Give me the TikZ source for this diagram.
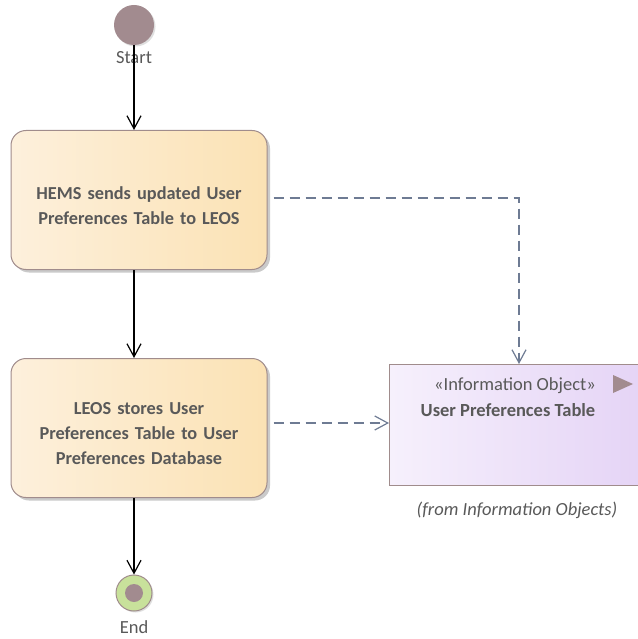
\documentclass[tikz,border=0pt]{standalone}
\usepackage{fontspec}
\setmainfont{Carlito}
\usetikzlibrary{arrows.meta,shadows}
\definecolor{txt}{HTML}{595959}
\definecolor{edge}{HTML}{A08C8C}
\definecolor{mauve}{HTML}{A28B8F}
\definecolor{tracecol}{HTML}{6E7B93}
\definecolor{actleft}{RGB}{253,240,220}
\definecolor{actright}{RGB}{251,226,180}
\definecolor{infoleft}{RGB}{246,240,252}
\definecolor{inforight}{RGB}{229,212,246}
\definecolor{finalgreen}{RGB}{200,225,155}
\begin{document}
\begin{tikzpicture}[x=1pt,y=-1pt,
  font=\fontsize{18.5pt}{22pt}\selectfont,
  actbox/.style={draw=edge,line width=1pt,rounded corners=15pt,minimum width=256pt,minimum height=139pt,
    shading=axis,shading angle=90,left color=actleft,right color=actright,
    drop shadow={shadow xshift=3pt,shadow yshift=-3pt,fill=black!35,opacity=0.6}},
  acttext/.style={text=txt,font=\fontsize{18.3pt}{25pt}\selectfont\bfseries,align=center,text width=240pt,inner sep=0pt},
  flow/.style={-{Straight Barb[length=13pt,width=14pt,line width=1.2pt]},line width=1.3pt,black},
  trace/.style={-{Straight Barb[length=13pt,width=14pt,line width=1.2pt]},line width=1.3pt,draw=tracecol,dash pattern=on 10pt off 6pt},
  lbl/.style={text=txt,inner sep=0pt}]
\useasboundingbox (0,0) rectangle (637,639);
% start node
\node[circle,fill=mauve,minimum size=40pt,inner sep=0pt,drop shadow={shadow xshift=1.5pt,shadow yshift=-1.5pt,fill=black!25}] (start) at (134,25) {};
\node[lbl] (startlbl) at (134,58) {Start};
% actions
\node[actbox] (send) at (139,200) {};
\node[acttext] (sendtxt) at (139,206) {HEMS sends updated User\\Preferences Table to LEOS};
\node[actbox] (store) at (139,428) {};
\node[acttext] (storetxt) at (139,434) {LEOS stores User\\Preferences Table to User\\Preferences Database};
% end node
\node[circle,draw=edge,line width=1pt,fill=finalgreen,minimum size=36pt,inner sep=0pt,drop shadow={shadow xshift=1.5pt,shadow yshift=-1.5pt,fill=black!25}] (end) at (134,593) {};
\node[circle,fill=mauve,minimum size=18pt,inner sep=0pt] (endin) at (end) {};
\node[lbl] (endlbl) at (134,627) {End};
% information object
\node[draw=edge,line width=1pt,shading=axis,shading angle=90,
  left color=infoleft,right color=inforight,
  minimum width=252pt,minimum height=121pt,anchor=north west,inner sep=0pt] (info) at (389,364) {};
\node[lbl] (stereo) at (515,386) {«Information Object»};
\node[lbl,font=\fontsize{18.5pt}{22pt}\selectfont\bfseries] (infoname) at (508,410) {User Preferences Table};
\fill[mauve] (613,375) -- (633,384) -- (613,393) -- cycle;
\node[lbl,font=\fontsize{18.5pt}{22pt}\selectfont\itshape] (from) at (517,510) {(from Information Objects)};
% control flows
\draw[flow] (start) -- (start |- send.north);
\draw[flow] (start |- send.south) -- (start |- store.north);
\draw[flow] (start |- store.south) -- (end);
% traces to the information object
\coordinate (bend) at (519,198);
\draw[trace] ([xshift=6pt]send.east |- bend) -- (bend) -- (bend |- info.north);
\draw[trace] ([xshift=6pt]store.east |- 0,423) -- (info.west |- 0,423);
\end{tikzpicture}
\end{document}
